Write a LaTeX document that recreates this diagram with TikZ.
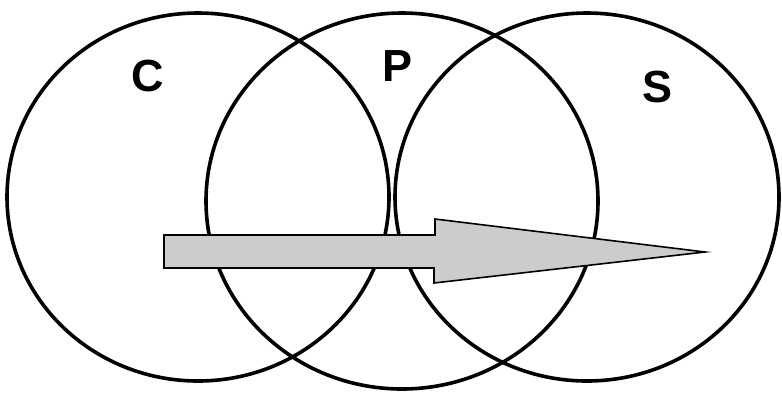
\documentclass[tikz,border=0pt]{standalone}
\usepackage{fontspec}
\setmainfont{Liberation Sans}
\begin{document}
\begin{tikzpicture}[x=1pt,y=-1pt,
  ring/.style={draw=black,line width=3.6pt},
  lbl/.style={font=\fontsize{45}{45}\selectfont\bfseries,inner sep=0pt},
  flow/.style={draw=black,line width=1.6pt,fill=black!20,line join=miter}]
\useasboundingbox (0,0) rectangle (782,392);
\draw[ring] (198,197) ellipse [x radius=191, y radius=184];
\draw[ring] (402,201) ellipse [x radius=196, y radius=188];
\draw[ring] (587,197) ellipse [x radius=192, y radius=184];
\coordinate (a1) at (164,235);
\coordinate (a2) at (435,235);
\coordinate (a3) at (435,219);
\coordinate (tip) at (705,252);
\coordinate (a4) at (434,283);
\coordinate (a5) at (434,268);
\coordinate (a6) at (164,268);
\draw[flow] (a1) -- (a2) -- (a3) -- (tip) -- (a4) -- (a5) -- (a6) -- cycle;
\node[lbl] (c) at (148,76) {C};
\node[lbl] (p) at (398,66) {P};
\node[lbl] (s) at (658,87) {S};
\end{tikzpicture}
\end{document}
